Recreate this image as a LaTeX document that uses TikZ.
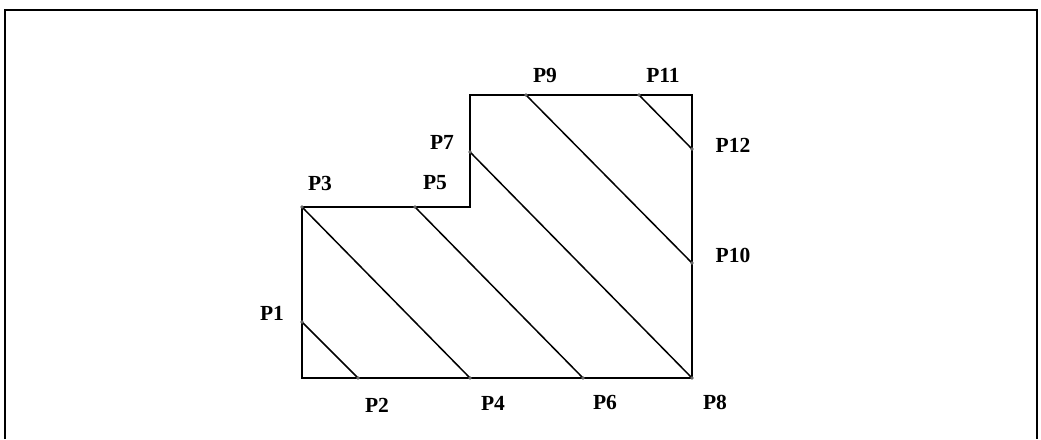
\documentclass[tikz,border=0pt]{standalone}
\usepackage{fontspec}
\setmainfont{Liberation Serif}
\begin{document}
\begin{tikzpicture}[x=1pt,y=-1pt,
  lbl/.style={font=\fontsize{21.5}{25}\selectfont\bfseries,inner sep=0pt},
  hatch/.style={line width=1.5pt},
  pdot/.style={fill=black!60}]
\useasboundingbox (0,0) rectangle (1041,439);
\draw[line width=2.6pt] (5,439) -- (5,10) -- (1037,10) -- (1037,439);
% corners of the outline
\coordinate (BL) at (302,378);
\coordinate (S) at (470,207);
\coordinate (TL) at (470,95);
\coordinate (TR) at (692,95);
% cut points
\coordinate (P1) at (302,322);
\coordinate (P2) at (358,378);
\coordinate (P3) at (302,207);
\coordinate (P4) at (470,378);
\coordinate (P5) at (415,207);
\coordinate (P6) at (583,378);
\coordinate (P7) at (470,152);
\coordinate (P8) at (692,378);
\coordinate (P9) at (526,95);
\coordinate (P10) at (692,263);
\coordinate (P11) at (639,95);
\coordinate (P12) at (692,149);
\draw[line width=1.7pt] (BL) -- (P3) -- (S) -- (TL) -- (TR) -- (P8) -- cycle;
\draw[hatch] (P1) -- (P2);
\draw[hatch] (P3) -- (P4);
\draw[hatch] (P5) -- (P6);
\draw[hatch] (P7) -- (P8);
\draw[hatch] (P9) -- (P10);
\draw[hatch] (P11) -- (P12);
\foreach \p in {P1,P2,P3,P4,P5,P6,P7,P8,P9,P10,P11,P12}
  \fill[pdot] (\p) circle (1.8);
\node[lbl] (lP1) at (272,313) {P1};
\node[lbl] (lP2) at (377,405) {P2};
\node[lbl] (lP3) at (320,183) {P3};
\node[lbl] (lP4) at (493,403) {P4};
\node[lbl] (lP5) at (435,183) {P5};
\node[lbl] (lP6) at (605,402) {P6};
\node[lbl] (lP7) at (442,142) {P7};
\node[lbl] (lP8) at (715,402) {P8};
\node[lbl] (lP9) at (545,75) {P9};
\node[lbl] (lP10) at (733,255) {P10};
\node[lbl] (lP11) at (663,75) {P11};
\node[lbl] (lP12) at (733,145) {P12};
\end{tikzpicture}
\end{document}
